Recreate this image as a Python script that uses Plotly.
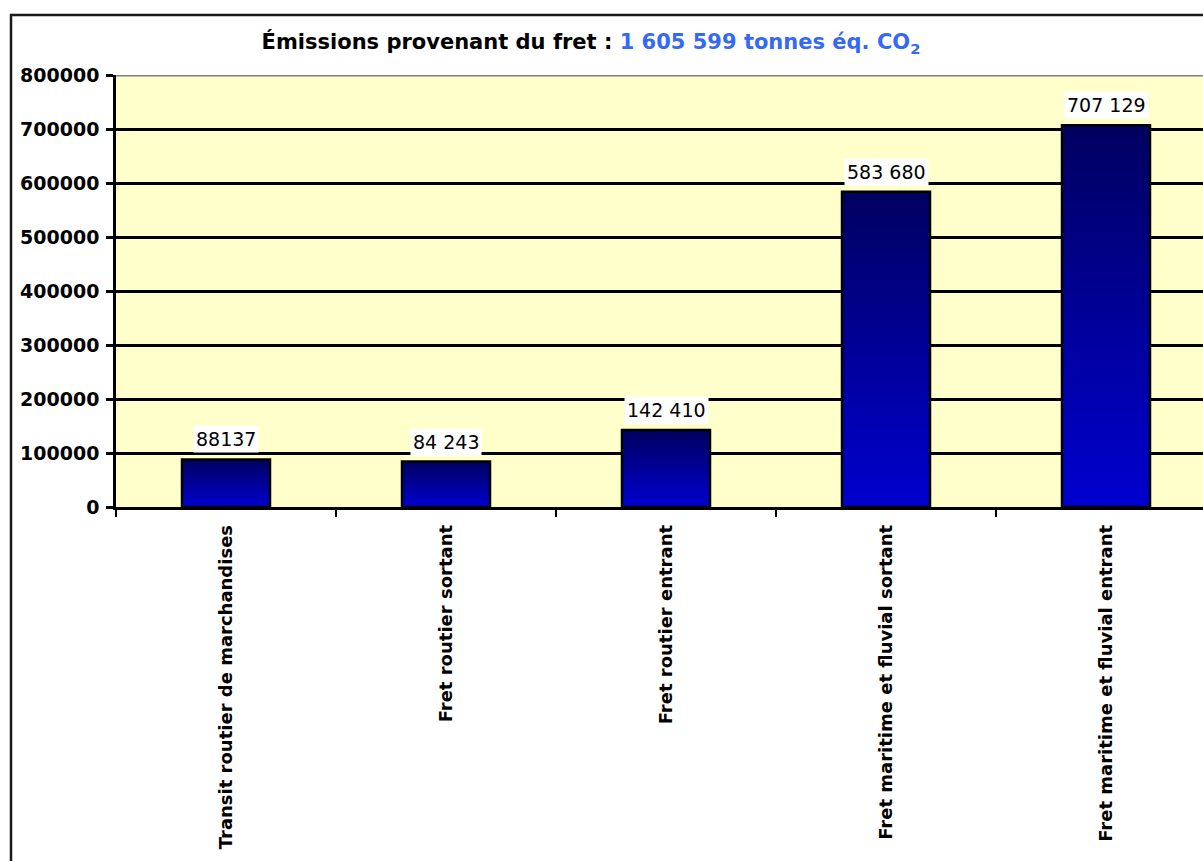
import plotly.graph_objects as go

# Freight emissions by category (tonnes CO2 equivalent)
categories = [
    "Transit routier de marchandises",
    "Fret routier sortant",
    "Fret routier entrant",
    "Fret maritime et fluvial sortant",
    "Fret maritime et fluvial entrant",
]
values = [88137, 84243, 142410, 583680, 707129]
value_labels = ["88137", "84 243", "142 410", "583 680", "707 129"]
y_ticks = [0, 100000, 200000, 300000, 400000, 500000, 600000, 700000, 800000]

FONT = "DejaVu Sans"
BAR_HALF = 0.2  # bar occupies 40 % of each category slot
BAR_TOP = "#000060"
BAR_BOTTOM = "#0000D0"

W, H = 1203, 861
ML, MT, MB = 116, 75, 354
slot_px = 220  # pixel width of one category slot
plot_w = W - ML
x_range = [-0.5, -0.5 + plot_w / slot_px]

fig = go.Figure()

# Each bar is a filled outline with a vertical dark-to-bright gradient
for i, (cat, v) in enumerate(zip(categories, values)):
    fig.add_trace(go.Scatter(
        x=[i - BAR_HALF, i - BAR_HALF, i + BAR_HALF, i + BAR_HALF, i - BAR_HALF],
        y=[0, v, v, 0, 0],
        mode="lines",
        fill="toself",
        fillgradient=dict(
            type="vertical",
            colorscale=[[0, BAR_BOTTOM], [1, BAR_TOP]],
            start=0,
            stop=v,
        ),
        line=dict(color="black", width=2.5),
        name=cat,
        hoverinfo="name+y",
        showlegend=False,
    ))

# Value labels on a white box above each bar
for i, (v, lab) in enumerate(zip(values, value_labels)):
    fig.add_annotation(
        x=i, y=v, xref="x", yref="y",
        text=lab, showarrow=False,
        yanchor="bottom", yshift=6,
        font=dict(family=FONT, size=19, color="black"),
        bgcolor="white", borderpad=2,
    )

plot_h = H - MT - MB
px_to_paper_x = lambda px: (px - ML) / plot_w
px_to_paper_y = lambda py: (H - MB - py) / plot_h

# Outer chart frame
fig.add_shape(
    type="rect", xref="paper", yref="paper",
    x0=px_to_paper_x(11), x1=px_to_paper_x(1230),
    y0=px_to_paper_y(900), y1=px_to_paper_y(15),
    line=dict(color="#1a1a1a", width=2.5),
    fillcolor="rgba(0,0,0,0)", layer="below",
)
# Grey top edge of the plotting area
fig.add_shape(
    type="line", xref="paper", yref="y",
    x0=0, x1=1, y0=800000, y1=800000,
    line=dict(color="#808080", width=3), layer="above",
)

fig.update_layout(
    width=W, height=H,
    margin=dict(l=ML, r=0, t=MT, b=MB, pad=0),
    paper_bgcolor="white",
    plot_bgcolor="#FFFFCC",
    showlegend=False,
    title=dict(
        text="Émissions provenant du fret : "
             "<span style='color:#3568F5'>1 605 599 tonnes éq. CO<sub>2</sub></span>",
        font=dict(family=FONT, size=21, color="black", weight="bold"),
        x=591 / W, xanchor="center", xref="container",
        y=1 - 42 / H, yanchor="middle", yref="container",
    ),
    xaxis=dict(
        range=x_range,
        tickmode="array",
        tickvals=list(range(len(categories))),
        ticktext=categories,
        tickangle=-90,
        ticks="",
        tickfont=dict(family=FONT, size=18, color="black", weight="bold"),
        ticklabelstandoff=8,
        minor=dict(ticks="outside", tick0=-0.5, dtick=1, ticklen=7,
                   tickwidth=2, tickcolor="black", showgrid=False),
        showgrid=False, zeroline=False,
        showline=True, linecolor="black", linewidth=2.5,
        fixedrange=True,
    ),
    yaxis=dict(
        range=[0, 800000],
        tickmode="array",
        tickvals=y_ticks,
        ticktext=[str(t) for t in y_ticks],
        ticks="outside", ticklen=7, tickwidth=2.5, tickcolor="black",
        tickfont=dict(family=FONT, size=19, color="black", weight="bold"),
        ticklabelstandoff=3,
        showgrid=True, gridcolor="black", gridwidth=2.5,
        zeroline=False,
        showline=True, linecolor="black", linewidth=2.5,
        fixedrange=True,
    ),
)

fig.write_html("out.html")
